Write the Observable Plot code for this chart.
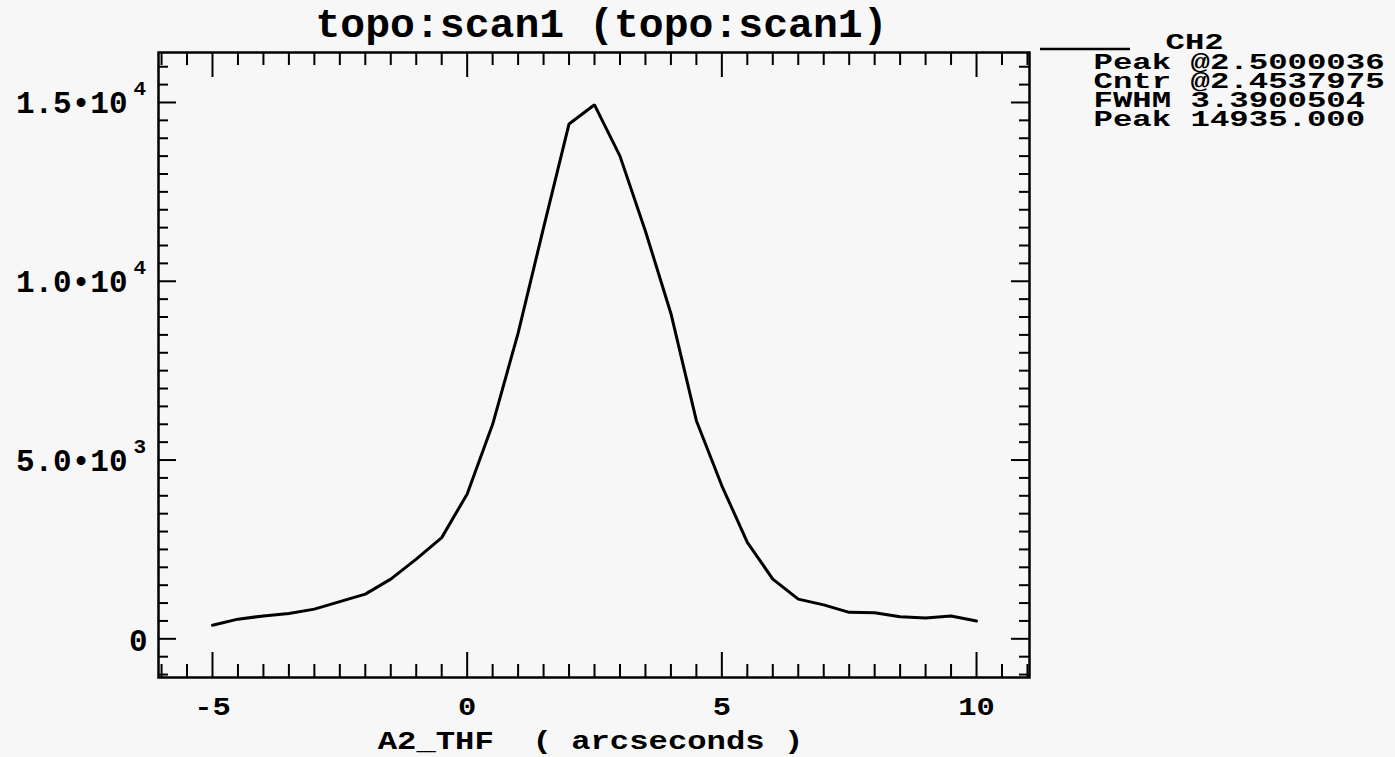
<!DOCTYPE html>
<html><head><meta charset="utf-8">
<script src="https://cdn.jsdelivr.net/npm/d3@7"></script>
<script src="https://cdn.jsdelivr.net/npm/@observablehq/plot@0.6"></script>
<style>
html,body{margin:0;padding:0;background:#f7f7f7;}
#chart svg{display:block;white-space:pre;}
</style></head><body><div id="chart"></div>
<script>
// ---- data ----
const xValues = [-5, -4.5, -4, -3.5, -3, -2.5, -2, -1.5, -1, -0.5, 0, 0.5, 1, 1.5, 2, 2.5, 3, 3.5, 4, 4.5, 5, 5.5, 6, 6.5, 7, 7.5, 8, 8.5, 9, 9.5, 10];
const counts = [380, 550, 640, 710, 830, 1040, 1250, 1670, 2230, 2830, 4050, 6000, 8550, 11500, 14400, 14935, 13500, 11400, 9100, 6100, 4280, 2700, 1670, 1110, 950, 740, 730, 615, 580, 640, 500];
const xTickValues = [-5, 0, 5, 10];
const xTickLabels = ["-5", "0", "5", "10"];
const yTickValues = [0, 5000, 10000, 15000];
const yTickMantissas = ["0", "5.0", "1.0", "1.5"];
const yTickExponents = ["", "3", "4", "4"];
const title = "topo:scan1 (topo:scan1)";
const xLabel = "A2_THF  ( arcseconds )";
const legendName = "CH2";
const legendLines = ["Peak @2.5000036", "Cntr @2.4537975", "FWHM 3.3900504", "Peak 14935.000"];

// ---- layout ----
const W = 1395, H = 757, mL = 158, mR = 366, mT = 52, mB = 80;
const frameH = H - mT - mB, frameW = W - mL - mR;
const data = xValues.map((x, i) => ({x, y: counts[i]}));
const xMinor = d3.range(-6, 11.01, 0.5).filter(v => v % 5 !== 0);
const yMinor = d3.range(-1000, 16001, 500).filter(v => v % 5000 !== 0);
const font = "'Liberation Mono', 'Courier New', monospace";
const tk = {stroke: "black", strokeWidth: 2};
const hasExp = (d, i) => yTickExponents[i] !== "";

const marks = [
  // x ticks bottom & top
  Plot.ruleX(xTickValues, {insetTop: frameH - 25, ...tk}),
  Plot.ruleX(xMinor, {insetTop: frameH - 13, ...tk}),
  Plot.ruleX(xTickValues, {insetBottom: frameH - 25, ...tk}),
  Plot.ruleX(xMinor, {insetBottom: frameH - 13, ...tk}),
  // y ticks left & right
  Plot.ruleY(yTickValues, {insetRight: frameW - 18, ...tk}),
  Plot.ruleY(yMinor, {insetRight: frameW - 10, ...tk}),
  Plot.ruleY(yTickValues, {insetLeft: frameW - 18, ...tk}),
  Plot.ruleY(yMinor, {insetLeft: frameW - 10, ...tk}),
  Plot.frame({stroke: "black", strokeWidth: 2.5}),
  Plot.line(data, {x: "x", y: "y", stroke: "black", strokeWidth: 3, strokeLinejoin: "miter"}),
  // title
  Plot.text([title], {frameAnchor: "top", lineAnchor: "bottom", dx: 7.5, dy: -15.5, fontSize: 40}),
  // x tick labels
  Plot.text(xTickValues, {x: d => d, text: (d, i) => xTickLabels[i], frameAnchor: "bottom", lineAnchor: "bottom", dy: 37, fontSize: 25}),
  // x label
  Plot.text([xLabel], {frameAnchor: "bottom", lineAnchor: "bottom", dx: -3.5, dy: 71, fontSize: 26}),
  // y tick labels
  Plot.text(yTickValues, {filter: hasExp, y: d => d, text: (d, i) => yTickMantissas[i] + "\u202210", frameAnchor: "left", textAnchor: "end", dx: -31, dy: 1, fontSize: 31}),
  Plot.text(yTickValues, {filter: hasExp, y: d => d, text: (d, i) => yTickExponents[i], frameAnchor: "left", textAnchor: "start", dx: -25, dy: -14, fontSize: 21}),
  Plot.text(yTickValues, {filter: (d, i) => !hasExp(d, i), y: d => d, text: (d, i) => yTickMantissas[i], frameAnchor: "left", textAnchor: "end", dx: -11, dy: 2, fontSize: 31}),
  // legend
  Plot.text([legendName], {frameAnchor: "top-right", textAnchor: "start", lineAnchor: "bottom", dx: 136, dy: -4, fontSize: 22}),
  ...legendLines.map((s, i) => Plot.text([s], {frameAnchor: "top-right", textAnchor: "start", lineAnchor: "bottom", dx: 64, dy: 16 + i * 19.3, fontSize: 22}))
];

const plot = Plot.plot({
  width: W, height: H, marginLeft: mL, marginRight: mR, marginTop: mT, marginBottom: mB,
  style: {background: "#f7f7f7", fontFamily: font, fontWeight: "bold", color: "black"},
  x: {domain: [-6.06, 11.04], axis: null},
  y: {domain: [-1082, 16398], axis: null},
  marks
});
document.getElementById("chart").append(plot);

// legend sample line
d3.select(plot).append("line")
  .attr("x1", 1040).attr("x2", 1130).attr("y1", 49).attr("y2", 49)
  .attr("stroke", "black").attr("stroke-width", 2.5);

// horizontally widen the scanned-looking monospace text
const stretch = {40: 1.036, 25: 1.22, 26: 1.24, 22: 1.47};
plot.querySelectorAll("text").forEach(t => {
  const g = t.closest("[font-size]");
  const fs = g ? parseFloat(g.getAttribute("font-size")) : NaN;
  const s = stretch[fs];
  if (s) {
    const w = t.getComputedTextLength();
    t.setAttribute("textLength", (w * s).toFixed(1));
    t.setAttribute("lengthAdjust", "spacingAndGlyphs");
  }
});
</script></body></html>
